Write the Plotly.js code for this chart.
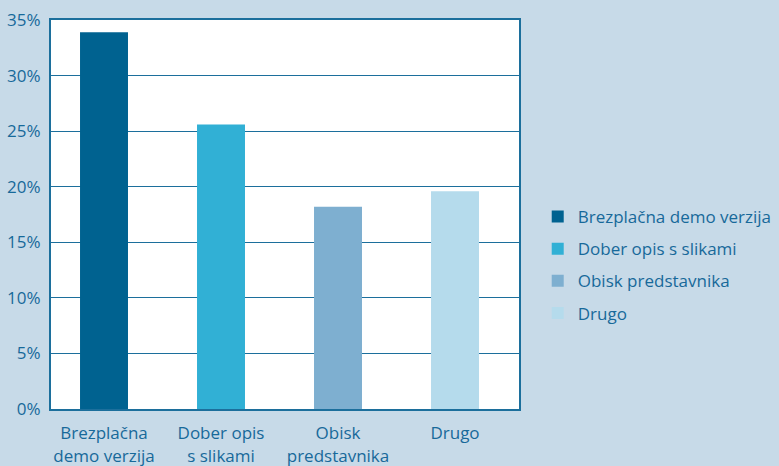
<!DOCTYPE html>
<html><head><meta charset="utf-8">
<script src="https://cdn.plot.ly/plotly-3.0.1.min.js"></script>
<style>body{margin:0;background:#c7dae8;}#chart{width:779px;height:466px;}</style>
</head><body><div id="chart"></div>
<script>
const categories = ["Brezplačna<br>demo verzija", "Dober opis<br>s slikami", "Obisk<br>predstavnika", "Drugo"];
const legendNames = ["Brezplačna demo verzija", "Dober opis s slikami", "Obisk predstavnika", "Drugo"];
const values = [0.339, 0.256, 0.182, 0.196];
const colors = ["#006290", "#31b0d5", "#7eafd0", "#b5dbec"];
const yTicks = [0, 0.05, 0.10, 0.15, 0.20, 0.25, 0.30, 0.35];

const textColor = "#17699a";
const traces = categories.map((c, i) => ({
  type: "bar",
  x: [c],
  y: [values[i]],
  name: legendNames[i],
  legendgroup: "g" + i,
  marker: {color: colors[i], line: {width: 0}},
  width: 0.41,
  hoverinfo: "none"
}));

const layout = {
  width: 779, height: 466,
  paper_bgcolor: "#c7dae8",
  plot_bgcolor: "#ffffff",
  margin: {l: 51, r: 260, t: 20, b: 57, autoexpand: false},
  barmode: "overlay",
  font: {family: "Open Sans, sans-serif", color: textColor, size: 17},
  xaxis: {
    type: "category",
    range: [-0.453, 3.547],
    showgrid: false,
    showline: true, linecolor: "#1c6f9c", linewidth: 2, mirror: true,
    ticks: "", ticklabelstandoff: 8,
    tickfont: {size: 17, color: textColor},
    fixedrange: true
  },
  yaxis: {
    range: [0, 0.35],
    tickvals: yTicks,
    tickformat: ".0%",
    showgrid: true, gridcolor: "#1c6f9c", gridwidth: 1,
    showline: true, linecolor: "#1c6f9c", linewidth: 2, mirror: true,
    zeroline: false,
    ticks: "", ticklabelstandoff: 5,
    tickfont: {size: 17, color: textColor}
  },
  showlegend: true,
  legend: {
    x: 1.04, xanchor: "left", y: 0.37, yanchor: "middle",
    bgcolor: "rgba(0,0,0,0)",
    font: {size: 17, color: textColor},
    tracegroupgap: 7,
    itemwidth: 30
  }
};
Plotly.newPlot("chart", traces, layout, {displayModeBar: false, staticPlot: true});
</script></body></html>
